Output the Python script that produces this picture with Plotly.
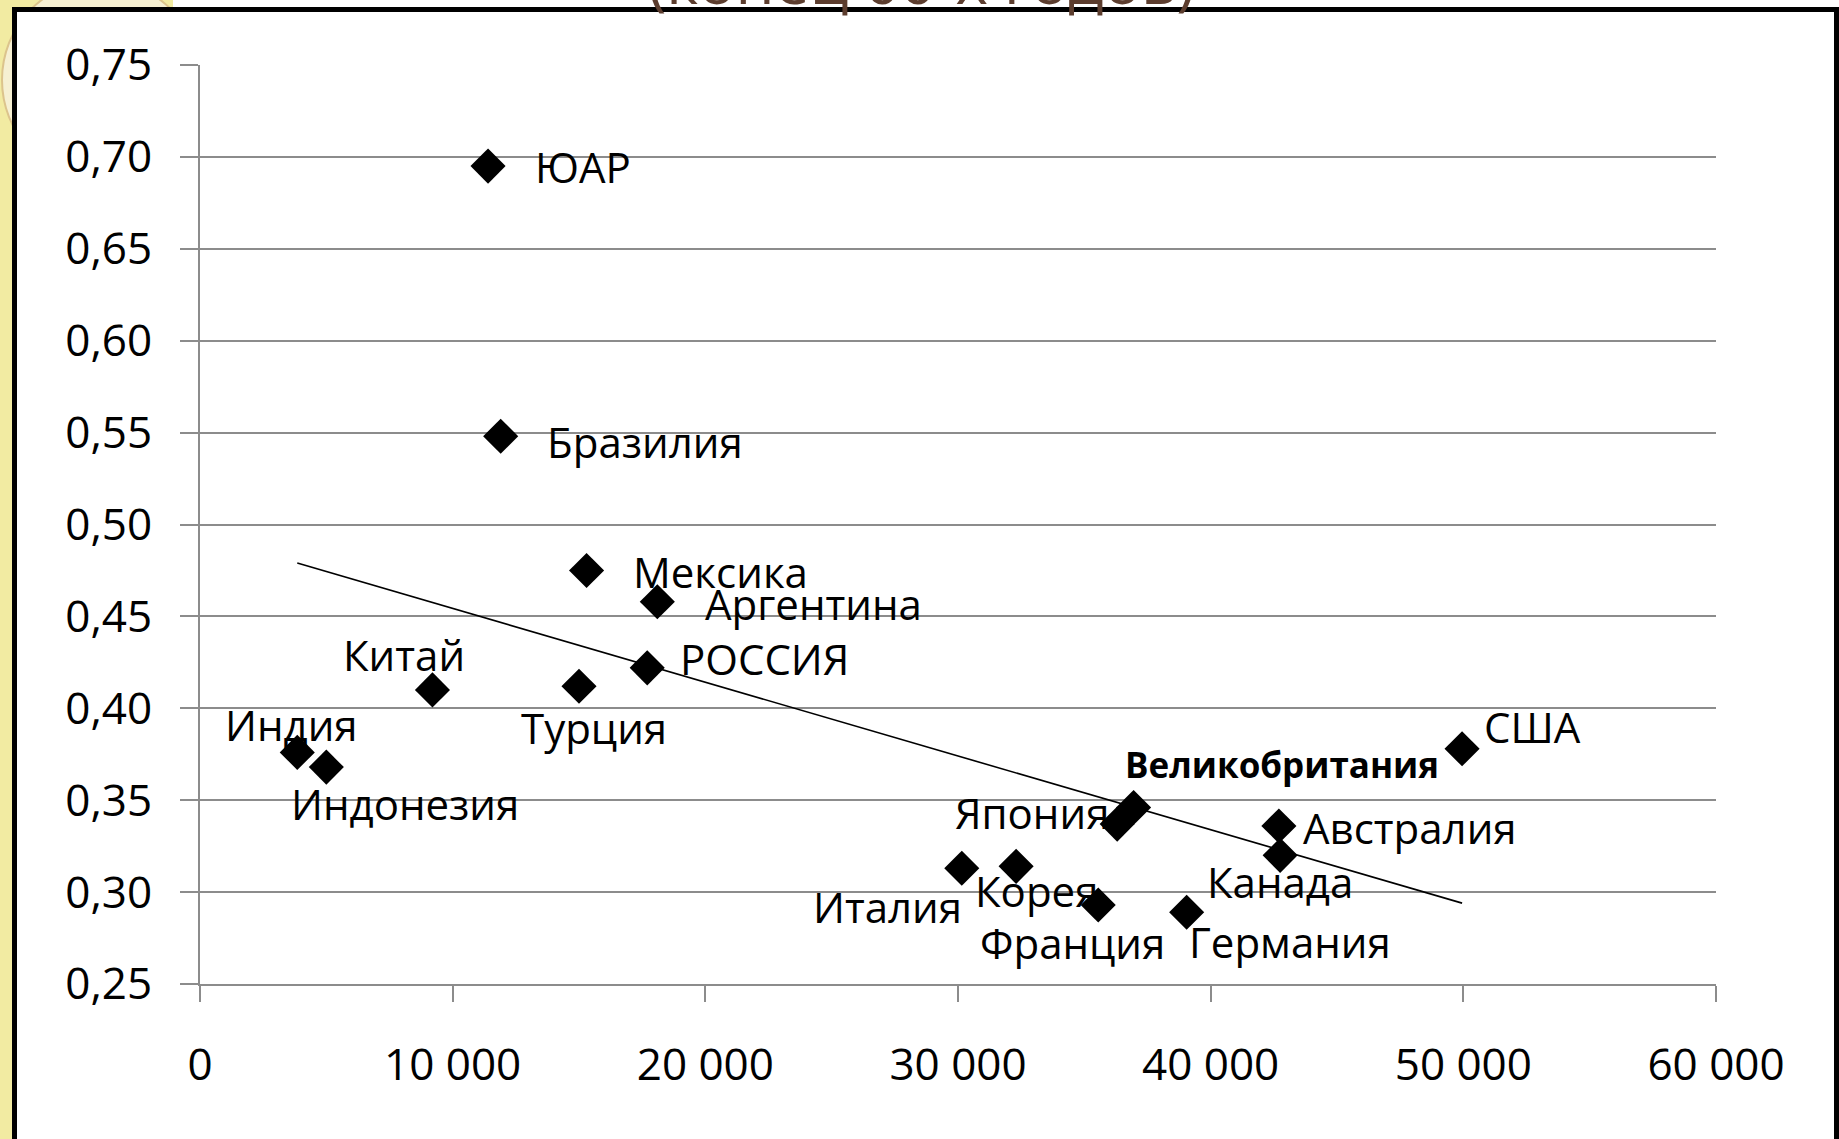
import plotly.graph_objects as go

# GDP per capita (USD) vs Gini-type coefficient, late 2000s
countries = ['ЮАР', 'Бразилия', 'Мексика', 'Аргентина', 'РОССИЯ', 'Китай',
             'Турция', 'Индия', 'Индонезия', 'Италия', 'Корея', 'Япония',
             'Великобритания', 'Франция', 'Германия', 'Австралия', 'Канада', 'США']
gdp = [11400, 11900, 15300, 18100, 17700, 9200,
       15000, 3850, 5000, 30150, 32300, 36300,
       36950, 35550, 39050, 42700, 42750, 49950]
gini = [0.695, 0.548, 0.475, 0.458, 0.422, 0.410,
        0.412, 0.376, 0.368, 0.313, 0.314, 0.337,
        0.346, 0.293, 0.289, 0.336, 0.320, 0.378]

# linear trend line end points
trend_x = [3850, 49950]
trend_y = [0.479, 0.294]

x_ticks = [0, 10000, 20000, 30000, 40000, 50000, 60000]
x_tick_labels = ['0', '10 000', '20 000', '30 000', '40 000', '50 000', '60 000']
y_ticks = [0.25, 0.30, 0.35, 0.40, 0.45, 0.50, 0.55, 0.60, 0.65, 0.70, 0.75]
y_tick_labels = ['0,25', '0,30', '0,35', '0,40', '0,45', '0,50',
                 '0,55', '0,60', '0,65', '0,70', '0,75']

# label placement: (xanchor, xshift, yshift) in pixels
label_pos = [('left', 45, 0), ('left', 44, -5), ('left', 44, -1), ('left', 46, -2),
             ('left', 31, 9), ('center', -28, 35), ('center', 15, -41),
             ('center', -6, 28), ('center', 79, -36), ('right', 2, -38),
             ('center', 20, -24), ('right', -6, 12), ('center', 148, 43),
             ('center', -26, -38), ('left', 0, -29), ('left', 22, -2),
             ('center', 0, -26), ('left', 20, 22)]

FONT = 'Open Sans'
GRID = '#8c8c8c'

W, H = 1839, 1139
L, R, T, B = 200, 1716, 65, 984


def px_x(p):
    return (p - L) / (R - L)


def px_y(p):
    return (B - p) / (B - T)


fig = go.Figure()

fig.add_trace(go.Scatter(
    x=trend_x, y=trend_y, mode='lines',
    line=dict(color='black', width=1.6),
    hoverinfo='skip', showlegend=False
))

fig.add_trace(go.Scatter(
    x=gdp, y=gini, mode='markers', text=countries,
    marker=dict(symbol='diamond', size=27, color='black'),
    hovertemplate='%{text}: %{x}, %{y}<extra></extra>',
    showlegend=False
))

annotations = []
for name, xv, yv, (anchor, dx, dy) in zip(countries, gdp, gini, label_pos):
    bold = name == 'Великобритания'
    annotations.append(dict(
        x=xv, y=yv, xref='x', yref='y', text=name, showarrow=False,
        xanchor=anchor, yanchor='middle', xshift=dx, yshift=dy,
        font=dict(family=FONT, size=35 if bold else 42, color='black',
                  weight='bold' if bold else 'normal')
    ))

# slide title, mostly cut off by the top edge
annotations.append(dict(
    x=px_x(921), y=px_y(24), xref='paper', yref='paper',
    text='(конец 00-х годов)', showarrow=False,
    xanchor='center', yanchor='bottom',
    font=dict(family=FONT, size=62, color='#5c3d2e')
))

shapes = [
    # yellow slide background at the left and top-left
    dict(type='rect', xref='paper', yref='paper', layer='below',
         x0=px_x(-20), x1=px_x(14), y0=px_y(1250), y1=px_y(-20),
         fillcolor='#f2eba2', line_width=0),
    dict(type='rect', xref='paper', yref='paper', layer='below',
         x0=px_x(-20), x1=px_x(173), y0=px_y(12), y1=px_y(-20),
         fillcolor='#f2eba2', line_width=0),
    dict(type='circle', xref='paper', yref='paper', layer='below',
         x0=px_x(2), x1=px_x(200), y0=px_y(180), y1=px_y(-20),
         fillcolor='#f6f0d2', line=dict(color='#dcc48c', width=2)),
    # black frame of the chart
    dict(type='rect', xref='paper', yref='paper', layer='below',
         x0=px_x(14.5), x1=px_x(1836.5), y0=px_y(1250), y1=px_y(9.5),
         fillcolor='white', line=dict(color='black', width=5)),
]

fig.update_layout(
    width=W, height=H,
    margin=dict(l=L, r=W - R, t=T, b=H - B, autoexpand=False),
    paper_bgcolor='white', plot_bgcolor='rgba(0,0,0,0)',
    font=dict(family=FONT, size=44, color='black'),
    showlegend=False,
    annotations=annotations, shapes=shapes,
    xaxis=dict(
        range=[0, 60000], tickvals=x_ticks, ticktext=x_tick_labels,
        showgrid=False, zeroline=False,
        showline=True, linecolor=GRID, linewidth=2,
        ticks='outside', ticklen=16, tickwidth=2, tickcolor=GRID,
        ticklabelstandoff=25, tickfont=dict(size=44)
    ),
    yaxis=dict(
        range=[0.25, 0.75], tickvals=y_ticks, ticktext=y_tick_labels,
        showgrid=True, gridcolor=GRID, gridwidth=2, zeroline=False,
        showline=True, linecolor=GRID, linewidth=2,
        ticks='outside', ticklen=18, tickwidth=2, tickcolor=GRID,
        ticklabelstandoff=19, tickfont=dict(size=44)
    ),
)

# drop the default body margin so the figure fills the window from (0, 0)
fig.write_html("out.html", config={'displayModeBar': False},
               post_script="document.body.style.margin = '0';")
